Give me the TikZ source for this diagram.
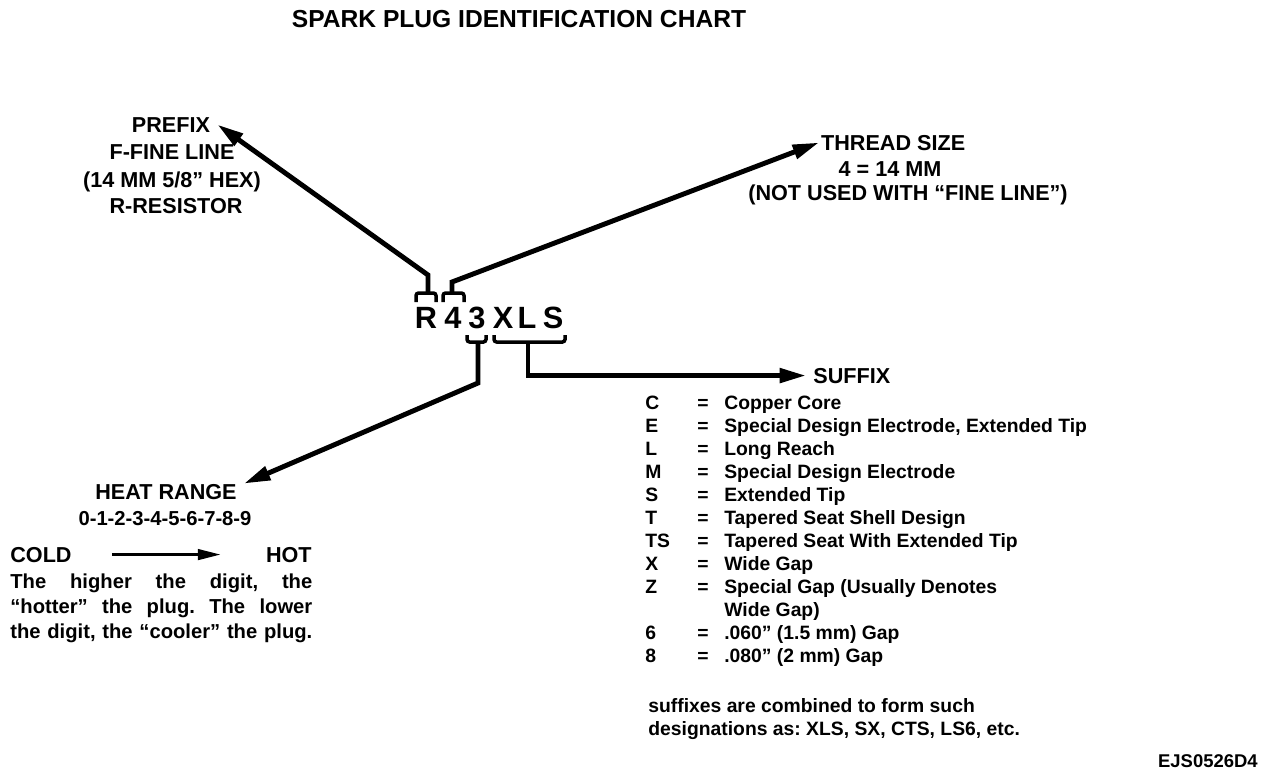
\documentclass[tikz,border=0pt]{standalone}
\usepackage{fontspec}
\setmainfont{Liberation Sans}
\usetikzlibrary{arrows.meta}

\begin{document}
\frenchspacing
\begin{tikzpicture}[
    % Define common styles
        x=0.02cm, y=-0.02cm,
        heading/.style={font=\bfseries\fontsize{12.3}{14}\selectfont, inner xsep=4pt, inner ysep=0pt},
        capline/.style={font=\bfseries\fontsize{12.3}{14}\selectfont, inner sep=0pt, anchor=base},
        bodytext/.style={font=\bfseries\fontsize{11}{13.1}\selectfont, inner sep=0pt, anchor=base west},
        codeletter/.style={font=\bfseries\fontsize{17.5}{20}\selectfont, inner sep=0pt, anchor=base},
        bracket/.style={line width=2pt, rounded corners=1.5pt},
        pointer/.style={line width=2.8pt, line join=miter, -{Triangle[length=15pt, width=8pt]}},
        thinarrow/.style={line width=1.6pt, -{Triangle[length=13pt, width=6pt]}}
    ]
        \useasboundingbox (0,0) rectangle (1280,778);

        % Title
        \node[font=\bfseries\fontsize{14}{16}\selectfont, anchor=base, inner sep=0pt] (title) at (519,27) {SPARK PLUG IDENTIFICATION CHART};

        % The designation itself
        \node[codeletter] (cR) at (426,328) {R};
        \node[codeletter] (c4) at (453,328) {4};
        \node[codeletter] (c3) at (477,328) {3};
        \node[codeletter] (cX) at (503,328) {X};
        \node[codeletter] (cL) at (527,328) {L};
        \node[codeletter] (cS) at (553,328) {S};

        % Prefix block
        \node[heading, anchor=base] (prefixhd) at (171,132) {PREFIX};
        \node[capline] (prefixfl) at (172,159) {F-FINE LINE};
        \node[capline] (prefixhex) at (172,187) {(14 MM 5/8'' HEX)};
        \node[capline] (prefixres) at (176,213) {R-RESISTOR};

        % Thread size block
        \node[heading, anchor=base west, inner xsep=1pt] (threadhd) at (819,150) {THREAD SIZE};
        \node[capline] (threadmm) at (890,176) {4 = 14 MM};
        \node[capline] (threadnote) at (908,200) {(NOT USED WITH ``FINE LINE'')};

        % Heat range block
        \node[heading, anchor=base] (heathd) at (166,499) {HEAT RANGE};
        \node[capline, font=\bfseries\fontsize{11.5}{14}\selectfont] (heatdigits) at (165,525) {0-1-2-3-4-5-6-7-8-9};
        \node[heading, anchor=base west, inner xsep=0pt] (cold) at (10,562) {COLD};
        \node[heading, anchor=base east, inner xsep=0pt] (hot) at (312,562) {HOT};
        \node[bodytext, font=\bfseries\fontsize{11.5}{14.46}\selectfont] (heatnote) at (10,588) {\begin{tabular}[t]{@{}l@{}}
            \makebox[6.04cm][s]{The higher the digit, the}\\
            \makebox[6.04cm][s]{``hotter'' the plug. The lower}\\
            \makebox[6.04cm][s]{the digit, the ``cooler'' the plug.}
        \end{tabular}};

        % Suffix block
        \node[heading, anchor=base west] (suffixhd) at (806,383) {SUFFIX};
        \node[bodytext] (suffixtab) at (645,409) {\begin{tabular}[t]{@{}p{1.04cm}@{}p{0.54cm}@{}l@{}}
            C & = & Copper Core\\
            E & = & Special Design Electrode, Extended Tip\\
            L & = & Long Reach\\
            M & = & Special Design Electrode\\
            S & = & Extended Tip\\
            T & = & Tapered Seat Shell Design\\
            TS & = & Tapered Seat With Extended Tip\\
            X & = & Wide Gap\\
            Z & = & Special Gap (Usually Denotes\\
              &   & Wide Gap)\\
            6 & = & .060'' (1.5 mm) Gap\\
            8 & = & .080'' (2 mm) Gap
        \end{tabular}};
        \node[bodytext] (suffixnote) at (648,712) {\begin{tabular}[t]{@{}l@{}}
            suffixes are combined to form such\\
            designations as: XLS, SX, CTS, LS6, etc.
        \end{tabular}};

        % Drawing number
        \node[font=\bfseries\fontsize{10.5}{12}\selectfont, anchor=base east, inner sep=0pt] (figid) at (1258,767) {EJS0526D4};

        % Brackets over and under the designation
        \draw[bracket] ([shift={(-10,-26)}]cR.base) -- ++(0,-9) -- ++(20,0) -- ++(0,9);
        \draw[bracket] ([shift={(-10,-26)}]c4.base) -- ++(0,-9) -- ++(21,0) -- ++(0,9);
        \draw[bracket] ([shift={(-10,7)}]c3.base) -- ++(0,7) -- ++(19,0) -- ++(0,-7);
        \draw[bracket] ([shift={(-9,7)}]cX.base) -- ++(0,7) -| ([shift={(12,7)}]cS.base);

        % Pointers out to the blocks
        \draw[pointer] ([shift={(2,-35)}]cR.base) -- ++(0,-18) -- (prefixhd.east);
        \draw[pointer] ([shift={(-1,-35)}]c4.base) -- ++(0,-11) -- (threadhd.west);
        \draw[pointer] ([shift={(1,14)}]c3.base) -- ++(0,41) -- (heathd.north east);
        \draw[pointer] ([shift={(25,14)}]cX.base) |- (suffixhd.west);

        % Cold to hot
        \draw[thinarrow, shorten <=0.8cm, shorten >=0.9cm] (cold.east) -- (hot.west);

    \end{tikzpicture}
\end{document}
